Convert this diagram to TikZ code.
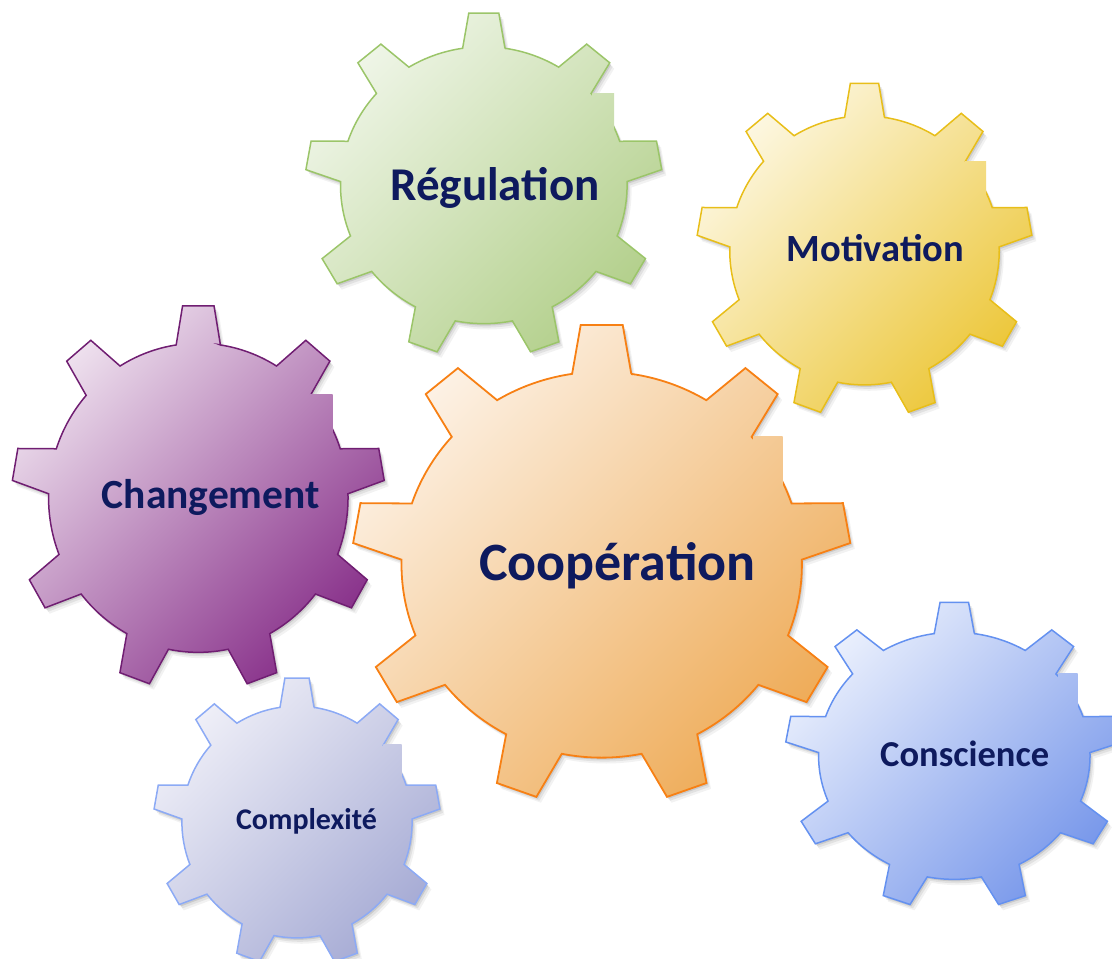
\documentclass[tikz,border=0pt]{standalone}
\usepackage{fontspec}
\setmainfont{Carlito}
\definecolor{navy}{RGB}{14,26,94}
\definecolor{gLight}{RGB}{240,246,233}
\definecolor{gDark}{RGB}{178,207,138}
\definecolor{gLine}{RGB}{155,197,105}
\definecolor{yLight}{RGB}{253,248,228}
\definecolor{yDark}{RGB}{236,198,55}
\definecolor{yLine}{RGB}{232,190,25}
\definecolor{pLight}{RGB}{240,228,240}
\definecolor{pDark}{RGB}{134,45,136}
\definecolor{pLine}{RGB}{112,30,114}
\definecolor{oLight}{RGB}{253,243,232}
\definecolor{oDark}{RGB}{238,170,85}
\definecolor{oLine}{RGB}{247,128,20}
\definecolor{bLight}{RGB}{236,241,253}
\definecolor{bDark}{RGB}{118,150,234}
\definecolor{bLine}{RGB}{100,145,240}
\definecolor{lLight}{RGB}{240,240,248}
\definecolor{lDark}{RGB}{165,170,212}
\definecolor{lLine}{RGB}{140,170,245}
\def\gRb{0.805}\def\gDb{8.5}\def\gDt{4.83}\def\gRt{1.0036}
\newcommand\gearshape{({90-\gDb}:\gRb) \foreach \k in {0,...,8}{ -- ({90+40*\k-\gDt}:\gRt) -- ({90+40*\k+\gDt}:\gRt) -- ({90+40*\k+\gDb}:\gRb) arc[start angle={90+40*\k+\gDb}, end angle={130+40*\k-\gDb}, radius=\gRb]} -- cycle}
% #1 cx #2 cy #3 rx #4 ry #5 light #6 dark #7 outline style #8 artefact rectangle
\newcommand\drawgear[8]{%
  \foreach \s/\o in {1.5/0.10,3/0.07,4.5/0.05}{
    \fill[black,opacity=\o,shift={(#1+\s,-#2-1.3*\s)},xscale=#3,yscale=#4] \gearshape;
  }
  \begin{scope}[shift={(#1,-#2)},xscale=#3,yscale=#4]
    \begin{scope}
      \clip \gearshape;
      \shade[top color=#5,bottom color=#6,shading angle=45] (-1.05,-1.05) rectangle (1.05,1.05);
    \end{scope}
    \draw[#7,line join=miter] \gearshape;
  \end{scope}
  \begin{scope}
    \clip #8;
    \shade[shift={(#1,-#2)},xscale=#3,yscale=#4,top color=#5,bottom color=#6,shading angle=45] (-1.05,-1.05) rectangle (1.05,1.05);
  \end{scope}}
\tikzset{label/.style={text=navy,font=\bfseries,anchor=base,inner sep=0pt}}
\begin{document}
\begin{tikzpicture}[x=1pt,y=1pt]
\useasboundingbox (0,0) rectangle (1112,-959);
\clip (0,0) rectangle (1112,-959);
\drawgear{483.8}{185.2}{178}{172}{gLight}{gDark}{draw=gLine,line width=1.5pt}{(592.3,-93.3) rectangle (614,-135)}
\drawgear{864.5}{250.4}{167.4}{167.1}{yLight}{yDark}{draw=yLine,line width=1.5pt}{(965,-161) rectangle (986,-200)}
\drawgear{198.3}{497.8}{186}{192}{pLight}{pDark}{draw=pLine,line width=1.5pt}{(309.3,-394) rectangle (332.7,-445)}
\drawgear{297}{822}{143}{144}{lLight}{lDark}{draw=lLine,line width=1.5pt}{(383.3,-744) rectangle (401.7,-780)}
\drawgear{954.3}{755.8}{168.6}{153.5}{bLight}{bDark}{draw=bLine,line width=1.5pt}{(1058.3,-673.3) rectangle (1077.7,-710)}
\drawgear{601.7}{564.7}{248.7}{239.7}{oLight}{oDark}{draw=oLine,line width=1.8pt}{(753.3,-436) rectangle (782.7,-495)}
\node[label,font=\bfseries\fontsize{47}{50}\selectfont] (regulation) at (495,-200) {Régulation};
\node[label,font=\bfseries\fontsize{38.5}{42}\selectfont] (motivation) at (875.5,-261.7) {Motivation};
\node[label,font=\bfseries\fontsize{41.5}{45}\selectfont] (changement) at (210.8,-508) {Changement};
\node[label,font=\bfseries\fontsize{54}{58}\selectfont] (cooperation) at (617.3,-580.7) {Coopération};
\node[label,font=\bfseries\fontsize{36.5}{40}\selectfont] (conscience) at (964.7,-766.7) {Conscience};
\node[label,font=\bfseries\fontsize{30}{34}\selectfont] (complexite) at (306.5,-829) {Complexité};
\end{tikzpicture}
\end{document}
